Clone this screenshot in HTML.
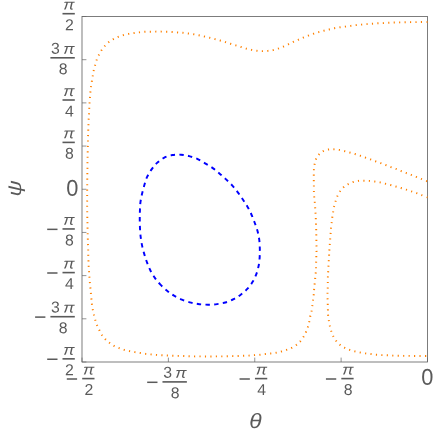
<!DOCTYPE html>
<html><head><meta charset="utf-8"><title>plot</title>
<style>
html,body{margin:0;padding:0;background:#fff;}
body{width:436px;height:436px;overflow:hidden;font-family:"Liberation Sans",sans-serif;}
#w{position:absolute;left:0;top:0;width:436px;height:436px;will-change:transform;}
svg{display:block;}
</style></head><body><div id="w">
<svg width="436" height="436" viewBox="0 0 436 436">
<rect x="82.00" y="16.50" width="345.50" height="345.50" fill="none" stroke="#666666" stroke-width="0.85"/>
<line x1="82.00" y1="16.50" x2="86.40" y2="16.50" stroke="#666666" stroke-width="0.7"/>
<line x1="82.00" y1="59.69" x2="86.40" y2="59.69" stroke="#666666" stroke-width="0.7"/>
<line x1="82.00" y1="102.88" x2="86.40" y2="102.88" stroke="#666666" stroke-width="0.7"/>
<line x1="82.00" y1="146.06" x2="86.40" y2="146.06" stroke="#666666" stroke-width="0.7"/>
<line x1="82.00" y1="189.25" x2="86.40" y2="189.25" stroke="#666666" stroke-width="0.7"/>
<line x1="82.00" y1="232.44" x2="86.40" y2="232.44" stroke="#666666" stroke-width="0.7"/>
<line x1="82.00" y1="275.62" x2="86.40" y2="275.62" stroke="#666666" stroke-width="0.7"/>
<line x1="82.00" y1="318.81" x2="86.40" y2="318.81" stroke="#666666" stroke-width="0.7"/>
<line x1="82.00" y1="362.00" x2="86.40" y2="362.00" stroke="#666666" stroke-width="0.7"/>
<line x1="82.00" y1="362.00" x2="82.00" y2="357.60" stroke="#666666" stroke-width="0.7"/>
<line x1="168.38" y1="362.00" x2="168.38" y2="357.60" stroke="#666666" stroke-width="0.7"/>
<line x1="254.75" y1="362.00" x2="254.75" y2="357.60" stroke="#666666" stroke-width="0.7"/>
<line x1="341.12" y1="362.00" x2="341.12" y2="357.60" stroke="#666666" stroke-width="0.7"/>
<line x1="427.50" y1="362.00" x2="427.50" y2="357.60" stroke="#666666" stroke-width="0.7"/>
<path d="M427.50 22.00 C426.50 22.00 423.42 21.98 421.50 22.00 C419.58 22.02 417.83 22.12 416.00 22.15 C414.17 22.17 412.32 22.13 410.50 22.15 C408.68 22.17 406.92 22.21 405.10 22.25 C403.28 22.29 401.42 22.35 399.60 22.40 C397.78 22.45 396.02 22.49 394.20 22.55 C392.38 22.61 390.52 22.66 388.70 22.75 C386.88 22.84 385.11 23.01 383.30 23.10 C381.49 23.19 379.67 23.20 377.85 23.30 C376.03 23.40 374.22 23.57 372.40 23.70 C370.57 23.83 368.72 23.95 366.90 24.10 C365.07 24.25 363.24 24.43 361.45 24.60 C359.66 24.77 357.94 24.89 356.15 25.10 C354.36 25.31 352.51 25.60 350.70 25.85 C348.89 26.10 347.10 26.36 345.30 26.60 C343.50 26.84 341.70 27.03 339.90 27.30 C338.10 27.57 336.30 27.83 334.50 28.20 C332.70 28.57 330.88 29.07 329.10 29.50 C327.32 29.93 325.54 30.32 323.80 30.75 C322.06 31.18 320.39 31.59 318.65 32.10 C316.91 32.61 315.09 33.21 313.35 33.80 C311.61 34.39 309.91 35.00 308.20 35.65 C306.49 36.30 304.77 37.01 303.10 37.70 C301.43 38.39 299.84 39.09 298.20 39.80 C296.56 40.51 294.90 41.20 293.25 41.95 C291.60 42.70 289.96 43.52 288.30 44.30 C286.64 45.07 284.98 45.88 283.30 46.60 C281.62 47.32 279.91 48.01 278.20 48.60 C276.49 49.19 274.79 49.77 273.05 50.15 C271.31 50.53 269.54 50.73 267.75 50.90 C265.96 51.07 264.11 51.17 262.30 51.15 C260.49 51.13 258.70 51.01 256.90 50.80 C255.10 50.59 253.28 50.27 251.50 49.90 C249.72 49.53 247.95 49.09 246.20 48.60 C244.45 48.11 242.72 47.48 241.00 46.95 C239.28 46.42 237.63 45.92 235.90 45.40 C234.17 44.88 232.34 44.35 230.60 43.80 C228.86 43.25 227.19 42.65 225.45 42.10 C223.71 41.55 221.92 41.00 220.15 40.50 C218.38 40.00 216.62 39.57 214.85 39.10 C213.08 38.63 211.32 38.14 209.55 37.70 C207.78 37.26 206.02 36.85 204.25 36.45 C202.48 36.05 200.73 35.67 198.95 35.30 C197.17 34.92 195.33 34.50 193.55 34.20 C191.78 33.90 190.08 33.73 188.30 33.50 C186.53 33.27 184.70 32.97 182.90 32.80 C181.10 32.62 179.31 32.59 177.50 32.45 C175.69 32.31 173.87 32.06 172.05 31.95 C170.23 31.84 168.41 31.86 166.60 31.80 C164.79 31.74 163.02 31.63 161.20 31.60 C159.38 31.57 157.46 31.58 155.65 31.60 C153.84 31.62 152.16 31.67 150.35 31.70 C148.54 31.73 146.62 31.69 144.80 31.80 C142.98 31.91 141.18 32.14 139.40 32.35 C137.62 32.56 135.90 32.79 134.10 33.05 C132.30 33.31 130.40 33.56 128.60 33.90 C126.80 34.24 125.03 34.62 123.30 35.10 C121.57 35.58 119.85 36.13 118.20 36.80 C116.55 37.47 114.97 38.22 113.40 39.10 C111.83 39.98 110.22 40.97 108.80 42.10 C107.38 43.23 106.12 44.53 104.90 45.90 C103.68 47.27 102.50 48.80 101.50 50.30 C100.50 51.80 99.70 53.30 98.90 54.90 C98.10 56.50 97.33 58.18 96.70 59.90 C96.07 61.62 95.59 63.44 95.10 65.20 C94.61 66.96 94.13 68.70 93.75 70.45 C93.37 72.20 93.11 73.93 92.80 75.70 C92.49 77.47 92.20 79.28 91.90 81.10 C91.60 82.92 91.25 84.78 91.00 86.60 C90.75 88.42 90.57 90.20 90.40 92.00 C90.23 93.80 90.13 95.60 90.00 97.40 C89.87 99.20 89.72 101.00 89.60 102.80 C89.47 104.60 89.35 106.38 89.25 108.20 C89.15 110.02 89.09 111.87 89.00 113.70 C88.91 115.53 88.78 117.38 88.70 119.20 C88.62 121.03 88.58 122.83 88.50 124.65 C88.42 126.47 88.33 128.29 88.25 130.10 C88.17 131.91 88.10 133.68 88.05 135.50 C88.00 137.32 87.98 139.18 87.95 141.00 C87.92 142.82 87.89 144.58 87.85 146.40 C87.81 148.22 87.74 150.10 87.70 151.90 C87.66 153.70 87.66 153.68 87.60 157.20 C87.54 160.72 87.42 167.70 87.35 173.00 C87.28 178.30 87.23 184.37 87.20 189.00 C87.17 193.63 87.16 197.93 87.15 200.80 C87.14 203.67 87.11 202.67 87.15 206.20 C87.19 209.73 87.29 216.70 87.40 222.00 C87.51 227.30 87.67 233.28 87.80 238.00 C87.93 242.72 88.12 247.40 88.20 250.30 C88.28 253.20 88.22 252.73 88.30 255.40 C88.38 258.07 88.52 262.67 88.70 266.30 C88.88 269.93 89.12 273.57 89.40 277.20 C89.68 280.83 90.07 284.48 90.40 288.10 C90.73 291.72 91.15 296.22 91.40 298.90 C91.65 301.58 91.67 302.42 91.90 304.20 C92.13 305.98 92.47 307.82 92.80 309.60 C93.13 311.38 93.48 313.15 93.90 314.90 C94.32 316.65 94.77 318.35 95.30 320.10 C95.83 321.85 96.42 323.72 97.10 325.40 C97.77 327.08 98.55 328.60 99.35 330.20 C100.15 331.80 100.89 333.48 101.90 335.00 C102.91 336.52 104.10 337.96 105.40 339.30 C106.70 340.64 108.25 341.94 109.70 343.05 C111.15 344.16 112.52 345.11 114.10 345.95 C115.68 346.79 117.52 347.44 119.20 348.10 C120.88 348.76 122.47 349.40 124.20 349.90 C125.93 350.40 127.82 350.73 129.60 351.10 C131.38 351.47 133.13 351.79 134.90 352.10 C136.67 352.41 138.40 352.65 140.20 352.95 C142.00 353.25 143.90 353.66 145.70 353.90 C147.50 354.14 149.23 354.23 151.00 354.40 C152.77 354.57 154.48 354.77 156.30 354.90 C158.12 355.03 160.06 355.10 161.90 355.20 C163.74 355.30 165.53 355.42 167.35 355.50 C169.17 355.58 170.99 355.63 172.80 355.70 C174.61 355.77 176.35 355.84 178.20 355.90 C180.05 355.96 182.12 355.98 183.90 356.05 C185.68 356.12 187.13 356.24 188.90 356.30 C190.67 356.36 192.65 356.38 194.50 356.40 C196.35 356.42 198.18 356.39 200.00 356.40 C201.82 356.41 203.60 356.44 205.40 356.45 C207.20 356.46 208.98 356.46 210.80 356.45 C212.62 356.44 214.50 356.41 216.30 356.40 C218.10 356.39 219.80 356.42 221.60 356.40 C223.40 356.38 225.27 356.35 227.10 356.30 C228.93 356.25 230.77 356.15 232.60 356.10 C234.43 356.05 236.25 356.05 238.05 356.00 C239.85 355.95 241.59 355.87 243.40 355.80 C245.21 355.73 247.05 355.72 248.90 355.60 C250.75 355.48 252.67 355.23 254.50 355.10 C256.33 354.97 258.10 354.98 259.90 354.80 C261.70 354.62 263.51 354.28 265.30 354.05 C267.09 353.82 268.87 353.66 270.65 353.45 C272.43 353.24 274.22 353.12 276.00 352.80 C277.78 352.48 279.60 351.98 281.35 351.50 C283.10 351.02 284.81 350.50 286.50 349.90 C288.19 349.30 289.87 348.72 291.50 347.90 C293.13 347.08 294.85 346.07 296.30 345.00 C297.75 343.93 298.99 342.87 300.20 341.50 C301.41 340.13 302.59 338.37 303.55 336.80 C304.51 335.23 305.23 333.73 305.95 332.10 C306.67 330.47 307.36 328.70 307.90 327.00 C308.44 325.30 308.80 323.68 309.20 321.90 C309.60 320.12 309.90 318.10 310.30 316.30 C310.70 314.50 311.03 314.67 311.60 311.10 C312.17 307.53 313.28 298.50 313.70 294.90 C314.12 291.30 313.77 293.12 314.10 289.50 C314.43 285.88 315.38 276.73 315.70 273.20 C316.02 269.67 315.90 271.03 316.00 268.30 C316.10 265.57 316.22 259.62 316.30 256.80 C316.38 253.98 316.50 255.03 316.50 251.40 C316.50 247.77 316.35 238.65 316.30 235.00 C316.25 231.35 316.25 231.28 316.20 229.50 C316.15 227.72 316.07 226.12 316.00 224.30 C315.93 222.48 315.88 220.42 315.80 218.60 C315.72 216.78 315.60 215.18 315.50 213.40 C315.40 211.62 315.32 209.73 315.20 207.90 C315.08 206.07 314.97 204.22 314.80 202.40 C314.63 200.58 314.35 198.82 314.20 197.00 C314.05 195.18 313.95 193.30 313.90 191.50 C313.85 189.70 313.92 188.00 313.90 186.20 C313.88 184.40 313.82 182.52 313.80 180.70 C313.78 178.88 313.78 177.10 313.80 175.30 C313.82 173.50 313.77 171.72 313.90 169.90 C314.03 168.08 314.26 166.17 314.60 164.40 C314.94 162.63 315.22 160.95 315.95 159.30 C316.68 157.65 317.81 155.85 319.00 154.50 C320.19 153.15 321.57 152.02 323.10 151.20 C324.63 150.38 326.45 149.87 328.20 149.55 C329.95 149.23 331.80 149.24 333.60 149.30 C335.40 149.36 337.22 149.60 339.00 149.90 C340.78 150.20 342.53 150.68 344.30 151.10 C346.07 151.52 347.83 151.97 349.60 152.45 C351.38 152.92 353.19 153.41 354.95 153.95 C356.71 154.49 358.44 155.11 360.15 155.70 C361.86 156.29 363.49 156.89 365.20 157.50 C366.91 158.11 368.70 158.72 370.40 159.35 C372.10 159.97 373.70 160.62 375.40 161.25 C377.10 161.88 378.89 162.47 380.60 163.10 C382.31 163.72 383.95 164.34 385.65 165.00 C387.35 165.66 389.09 166.40 390.80 167.05 C392.51 167.70 394.22 168.25 395.90 168.90 C397.57 169.55 399.17 170.27 400.85 170.95 C402.53 171.62 404.31 172.31 406.00 172.95 C407.69 173.59 409.32 174.16 411.00 174.80 C412.68 175.44 414.40 176.12 416.10 176.80 C417.80 177.48 419.50 178.22 421.20 178.90 C422.90 179.58 425.25 180.48 426.30 180.90 C427.35 181.32 427.30 181.32 427.50 181.40" fill="none" stroke="#ff8000" stroke-width="1.94" stroke-dasharray="1.15 4.298" stroke-dashoffset="0"/>
<path d="M427.50 197.40 C426.52 197.02 423.43 195.82 421.60 195.10 C419.77 194.38 418.20 193.72 416.50 193.10 C414.80 192.48 413.11 191.97 411.40 191.40 C409.69 190.83 407.98 190.27 406.25 189.70 C404.52 189.13 402.80 188.53 401.05 188.00 C399.30 187.47 397.49 187.00 395.75 186.50 C394.01 186.00 392.34 185.47 390.60 185.00 C388.86 184.53 387.07 184.13 385.30 183.70 C383.53 183.27 381.77 182.76 380.00 182.40 C378.23 182.04 376.49 181.80 374.70 181.55 C372.91 181.30 371.07 181.04 369.25 180.90 C367.43 180.76 365.60 180.71 363.80 180.70 C362.00 180.69 360.22 180.63 358.45 180.85 C356.68 181.07 354.92 181.46 353.20 182.00 C351.48 182.54 349.66 183.27 348.10 184.10 C346.54 184.93 345.17 185.82 343.85 187.00 C342.53 188.18 341.26 189.73 340.20 191.20 C339.14 192.67 338.27 194.13 337.50 195.80 C336.73 197.47 336.15 199.50 335.60 201.20 C335.05 202.90 334.60 204.25 334.20 206.00 C333.80 207.75 333.52 209.83 333.20 211.70 C332.88 213.57 332.55 215.40 332.30 217.20 C332.05 219.00 331.92 220.65 331.70 222.50 C331.48 224.35 331.18 226.48 331.00 228.30 C330.82 230.12 330.92 229.83 330.65 233.40 C330.38 236.97 329.66 246.12 329.40 249.75 C329.14 253.38 329.30 251.56 329.10 255.20 C328.90 258.84 328.40 268.00 328.20 271.60 C328.00 275.20 327.98 274.02 327.90 276.80 C327.82 279.58 327.77 285.57 327.70 288.30 C327.63 291.03 327.47 289.67 327.50 293.20 C327.53 296.73 327.80 305.87 327.90 309.50 C328.00 313.13 327.95 313.18 328.10 315.00 C328.25 316.82 328.52 318.63 328.80 320.45 C329.08 322.27 329.40 324.13 329.80 325.90 C330.20 327.67 330.63 329.35 331.20 331.05 C331.77 332.75 332.38 334.48 333.20 336.10 C334.02 337.73 334.98 339.37 336.10 340.80 C337.22 342.23 338.50 343.55 339.90 344.70 C341.30 345.85 342.88 346.84 344.50 347.70 C346.12 348.56 347.88 349.23 349.60 349.85 C351.32 350.47 353.05 350.96 354.80 351.40 C356.55 351.84 358.32 352.17 360.10 352.50 C361.88 352.83 363.70 353.15 365.50 353.40 C367.30 353.65 369.10 353.78 370.90 354.00 C372.70 354.22 374.50 354.52 376.30 354.70 C378.10 354.88 379.90 355.00 381.70 355.10 C383.50 355.20 385.27 355.22 387.10 355.30 C388.93 355.38 390.87 355.53 392.70 355.60 C394.53 355.67 396.30 355.66 398.10 355.70 C399.90 355.74 401.68 355.83 403.50 355.85 C405.32 355.88 407.17 355.83 409.00 355.85 C410.83 355.88 412.68 355.98 414.50 356.00 C416.32 356.02 418.08 356.00 419.90 356.00 C421.72 356.00 424.13 356.00 425.40 356.00 C426.67 356.00 427.15 356.00 427.50 356.00" fill="none" stroke="#ff8000" stroke-width="1.94" stroke-dasharray="1.15 4.305" stroke-dashoffset="0"/>
<path d="M160.20 284.40 C158.18 282.25 156.35 279.95 154.70 277.60 C153.05 275.25 151.58 272.83 150.30 270.30 C149.02 267.77 148.00 265.10 147.00 262.40 C146.00 259.70 145.12 256.90 144.30 254.10 C143.48 251.30 142.70 248.42 142.10 245.60 C141.50 242.78 141.05 240.05 140.70 237.20 C140.35 234.35 140.16 231.43 140.00 228.50 C139.84 225.57 139.77 222.52 139.75 219.60 C139.73 216.68 139.79 213.83 139.90 211.00 C140.01 208.17 140.05 205.43 140.40 202.60 C140.75 199.77 141.35 196.88 142.00 194.00 C142.65 191.12 143.47 188.10 144.30 185.30 C145.13 182.50 145.78 179.85 147.00 177.20 C148.22 174.55 149.92 171.78 151.60 169.40 C153.28 167.02 155.05 164.83 157.10 162.90 C159.15 160.97 161.37 159.12 163.90 157.80 C166.43 156.48 169.45 155.52 172.30 155.00 C175.15 154.48 178.18 154.52 181.00 154.70 C183.82 154.88 186.48 155.40 189.20 156.10 C191.92 156.80 194.65 157.70 197.30 158.90 C199.95 160.10 202.52 161.77 205.10 163.30 C207.68 164.83 210.42 166.42 212.80 168.10 C215.18 169.78 217.23 171.57 219.40 173.40 C221.57 175.23 223.68 177.12 225.80 179.10 C227.92 181.08 230.10 183.10 232.10 185.30 C234.10 187.50 236.03 189.97 237.80 192.30 C239.57 194.63 241.12 196.95 242.70 199.30 C244.28 201.65 245.88 203.95 247.30 206.40 C248.72 208.85 249.98 211.32 251.20 214.00 C252.42 216.68 253.57 219.73 254.60 222.50 C255.63 225.27 256.63 227.78 257.40 230.60 C258.17 233.42 258.80 236.47 259.20 239.40 C259.60 242.33 259.72 245.33 259.80 248.20 C259.88 251.07 259.87 253.80 259.70 256.60 C259.53 259.40 259.33 262.17 258.80 265.00 C258.27 267.83 257.50 270.83 256.50 273.60 C255.50 276.37 254.30 279.08 252.80 281.60 C251.30 284.12 249.47 286.57 247.50 288.70 C245.53 290.83 243.32 292.65 241.00 294.40 C238.68 296.15 236.20 297.85 233.60 299.20 C231.00 300.55 228.15 301.68 225.40 302.50 C222.65 303.32 219.92 303.73 217.10 304.10 C214.28 304.47 211.43 304.68 208.50 304.70 C205.57 304.72 202.40 304.55 199.50 304.20 C196.60 303.85 194.03 303.37 191.10 302.60 C188.17 301.83 184.82 300.80 181.90 299.60 C178.98 298.40 176.12 296.92 173.60 295.40 C171.08 293.88 169.03 292.33 166.80 290.50 C164.57 288.67 162.22 286.55 160.20 284.40Z" fill="none" stroke="#0000ff" stroke-width="1.94" stroke-dasharray="4.4 4.32" stroke-dashoffset="2.2"/>
<g fill="#5a5a5a" font-family="Liberation Sans, sans-serif" text-rendering="geometricPrecision">
<rect x="62.50" y="12.90" width="12.30" height="1.60"/>
<text transform="translate(68.95 9.60) rotate(0.03) scale(1.15 1)" font-size="14.6" text-anchor="middle" font-style="italic">π</text>
<text transform="translate(69.30 30.15) rotate(0.03) scale(1.0 1)" font-size="15.8" text-anchor="middle">2</text>
<rect x="50.40" y="57.00" width="24.40" height="1.60"/>
<text transform="translate(55.50 53.70) rotate(0.03) scale(1.0 1)" font-size="15.8" text-anchor="middle">3</text>
<text transform="translate(68.90 53.70) rotate(0.03) scale(1.15 1)" font-size="14.6" text-anchor="middle" font-style="italic">π</text>
<text transform="translate(63.10 74.25) rotate(0.03) scale(1.0 1)" font-size="15.8" text-anchor="middle">8</text>
<rect x="62.50" y="99.20" width="12.30" height="1.60"/>
<text transform="translate(68.95 95.90) rotate(0.03) scale(1.15 1)" font-size="14.6" text-anchor="middle" font-style="italic">π</text>
<text transform="translate(69.30 116.45) rotate(0.03) scale(1.0 1)" font-size="15.8" text-anchor="middle">4</text>
<rect x="62.50" y="141.60" width="12.30" height="1.60"/>
<text transform="translate(68.95 138.30) rotate(0.03) scale(1.15 1)" font-size="14.6" text-anchor="middle" font-style="italic">π</text>
<text transform="translate(69.30 158.85) rotate(0.03) scale(1.0 1)" font-size="15.8" text-anchor="middle">8</text>
<text transform="translate(72.20 195.85) rotate(0.03) scale(0.955 1)" font-size="22.8" text-anchor="middle">0</text>
<rect x="62.50" y="228.15" width="12.30" height="1.60"/>
<text transform="translate(68.95 224.85) rotate(0.03) scale(1.15 1)" font-size="14.6" text-anchor="middle" font-style="italic">π</text>
<text transform="translate(69.30 245.40) rotate(0.03) scale(1.0 1)" font-size="15.8" text-anchor="middle">8</text>
<rect x="47.20" y="228.60" width="10.30" height="1.50"/>
<rect x="62.50" y="271.80" width="12.30" height="1.60"/>
<text transform="translate(68.95 268.50) rotate(0.03) scale(1.15 1)" font-size="14.6" text-anchor="middle" font-style="italic">π</text>
<text transform="translate(69.30 289.05) rotate(0.03) scale(1.0 1)" font-size="15.8" text-anchor="middle">4</text>
<rect x="47.20" y="272.25" width="10.30" height="1.50"/>
<rect x="50.40" y="315.90" width="24.40" height="1.60"/>
<text transform="translate(55.50 312.60) rotate(0.03) scale(1.0 1)" font-size="15.8" text-anchor="middle">3</text>
<text transform="translate(68.90 312.60) rotate(0.03) scale(1.15 1)" font-size="14.6" text-anchor="middle" font-style="italic">π</text>
<text transform="translate(63.10 333.15) rotate(0.03) scale(1.0 1)" font-size="15.8" text-anchor="middle">8</text>
<rect x="35.10" y="316.35" width="10.30" height="1.50"/>
<rect x="62.50" y="358.05" width="12.30" height="1.60"/>
<text transform="translate(68.95 354.75) rotate(0.03) scale(1.15 1)" font-size="14.6" text-anchor="middle" font-style="italic">π</text>
<text transform="translate(69.30 375.30) rotate(0.03) scale(1.0 1)" font-size="15.8" text-anchor="middle">2</text>
<rect x="47.20" y="358.50" width="10.30" height="1.50"/>
<rect x="82.20" y="377.80" width="12.30" height="1.60"/>
<text transform="translate(88.65 374.50) rotate(0.03) scale(1.15 1)" font-size="14.6" text-anchor="middle" font-style="italic">π</text>
<text transform="translate(89.00 395.05) rotate(0.03) scale(1.0 1)" font-size="15.8" text-anchor="middle">2</text>
<rect x="66.80" y="378.25" width="10.30" height="1.50"/>
<rect x="162.47" y="381.10" width="24.40" height="1.60"/>
<text transform="translate(167.57 377.80) rotate(0.03) scale(1.0 1)" font-size="15.8" text-anchor="middle">3</text>
<text transform="translate(180.97 377.80) rotate(0.03) scale(1.15 1)" font-size="14.6" text-anchor="middle" font-style="italic">π</text>
<text transform="translate(175.17 398.35) rotate(0.03) scale(1.0 1)" font-size="15.8" text-anchor="middle">8</text>
<rect x="147.18" y="381.55" width="10.30" height="1.50"/>
<rect x="254.95" y="377.80" width="12.30" height="1.60"/>
<text transform="translate(261.40 374.50) rotate(0.03) scale(1.15 1)" font-size="14.6" text-anchor="middle" font-style="italic">π</text>
<text transform="translate(261.75 395.05) rotate(0.03) scale(1.0 1)" font-size="15.8" text-anchor="middle">4</text>
<rect x="239.55" y="378.25" width="10.30" height="1.50"/>
<rect x="341.32" y="377.80" width="12.30" height="1.60"/>
<text transform="translate(347.78 374.50) rotate(0.03) scale(1.15 1)" font-size="14.6" text-anchor="middle" font-style="italic">π</text>
<text transform="translate(348.12 395.05) rotate(0.03) scale(1.0 1)" font-size="15.8" text-anchor="middle">8</text>
<rect x="325.93" y="378.25" width="10.30" height="1.50"/>
<text transform="translate(427.40 384.70) rotate(0.03) scale(0.955 1)" font-size="22.8" text-anchor="middle">0</text>
<text transform="translate(255.4 428.2) scale(1.1 1)" font-size="20.8" text-anchor="middle" font-style="italic">θ</text>
<text transform="translate(21.0 188.35) rotate(-90) scale(1.16 1)" font-size="19.2" text-anchor="middle" font-style="italic">ψ</text>
</g>
</svg>
</div></body></html>
